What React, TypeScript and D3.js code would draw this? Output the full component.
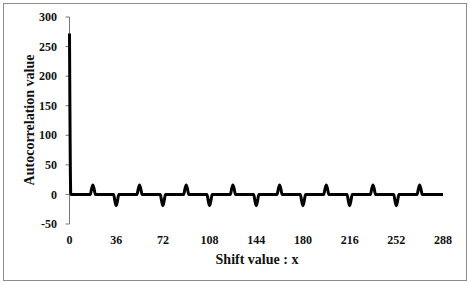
import React from "react";
import * as d3 from "d3";

const shiftValues = [
  0, 1,
  16, 17, 18, 19, 20,
  34, 35, 36, 37, 38,
  52, 53, 54, 55, 56,
  70, 71, 72, 73, 74,
  88, 89, 90, 91, 92,
  106, 107, 108, 109, 110,
  124, 125, 126, 127, 128,
  142, 143, 144, 145, 146,
  160, 161, 162, 163, 164,
  178, 179, 180, 181, 182,
  196, 197, 198, 199, 200,
  214, 215, 216, 217, 218,
  232, 233, 234, 235, 236,
  250, 251, 252, 253, 254,
  268, 269, 270, 271, 272,
  288,
];
const autocorrValues = [
  272, 0,
  0, 9, 16, 9, 0,
  0, -11, -19, -11, 0,
  0, 9, 16, 9, 0,
  0, -11, -19, -11, 0,
  0, 9, 16, 9, 0,
  0, -11, -19, -11, 0,
  0, 9, 16, 9, 0,
  0, -11, -19, -11, 0,
  0, 9, 16, 9, 0,
  0, -11, -19, -11, 0,
  0, 9, 16, 9, 0,
  0, -11, -19, -11, 0,
  0, 9, 16, 9, 0,
  0, -11, -19, -11, 0,
  0, 9, 16, 9, 0,
  0,
];
const xTicks = [0, 36, 72, 108, 144, 180, 216, 252, 288];
const yTicks = [-50, 0, 50, 100, 150, 200, 250, 300];

export default function App() {
  const W = 471, H = 285;
  const x = d3.scaleLinear().domain([0, 288]).range([69.5, 443]);
  const y = d3.scaleLinear().domain([-50, 300]).range([224, 17]);
  const pts = shiftValues.map((s, i) => [s, autocorrValues[i]] as [number, number]);
  const line = d3.line<[number, number]>().x(d => x(d[0])).y(d => y(d[1])).curve(d3.curveMonotoneX);
  const font = "'Liberation Serif', 'Times New Roman', serif";
  return (
    <svg width={W} height={H} style={{ position: "absolute", left: 0, top: 0 }} fontFamily={font}>
      <rect x={0} y={0} width={W} height={H} fill="#fff" />
      <rect x={3.5} y={3.5} width={463} height={277} fill="none" stroke="#8c8c8c" strokeWidth={1} />
      <line x1={x(0)} x2={x(0)} y1={y(300)} y2={y(-50)} stroke="#777" strokeWidth={1} />
      {yTicks.map(t => (
        <g key={t}>
          <line x1={x(0) - 4} x2={x(0)} y1={y(t)} y2={y(t)} stroke="#777" strokeWidth={1} />
          <text x={57} y={y(t)} dy="0.35em" textAnchor="end" fontSize={12} fontWeight="bold" fill="#111">{t}</text>
        </g>
      ))}
      {xTicks.map(t => (
        <text key={t} x={x(t)} y={240} dy="0.35em" textAnchor="middle" fontSize={12} fontWeight="bold" fill="#111">{t}</text>
      ))}
      <path d={line(pts) || ""} fill="none" stroke="#000" strokeWidth={3} strokeLinejoin="round" />
      <text x={257} y={259} dy="0.35em" textAnchor="middle" fontSize={14} fontWeight="bold" fill="#111">Shift value : x</text>
      <text transform={`translate(29,120) rotate(-90)`} dy="0.35em" textAnchor="middle" fontSize={14} fontWeight="bold" fill="#111">Autocorrelation value</text>
    </svg>
  );
}
